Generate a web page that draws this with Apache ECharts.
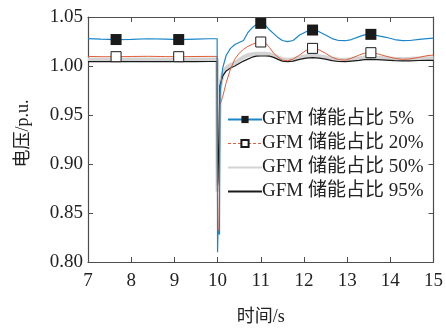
<!DOCTYPE html>
<html>
<head>
<meta charset="utf-8">
<script src="https://cdn.jsdelivr.net/npm/echarts@6/dist/echarts.min.js"></script>
<style>
html,body{margin:0;padding:0;background:#fff;}
#chart{width:446px;height:331px;}
</style>
</head>
<body>
<div id="chart"></div>
<script>
// Time stamps (s) shared by all curves
var times = [7, 7.3, 7.65, 8, 8.4, 8.8, 9.1, 9.5, 9.8, 9.99,
  10.0, 10.01, 10.03, 10.045, 10.055, 10.12,
  10.2, 10.3, 10.4, 10.5, 10.6, 10.7, 10.8, 10.9, 11.0,
  11.1, 11.2, 11.3, 11.4, 11.5, 11.62, 11.75, 11.9, 12.05, 12.2,
  12.35, 12.5, 12.65, 12.8, 12.96, 13.1, 13.28, 13.4, 13.55,
  13.7, 13.9, 14.1, 14.28, 14.45, 14.67, 14.85, 15];

// Times where the marker symbols sit
var markerTimes = [7.65, 9.1, 11.0, 12.2, 13.55];

// Voltage (p.u.) for each GFM storage share
var v5 = [1.028, 1.0275, 1.027, 1.0272, 1.0278, 1.0275, 1.027, 1.0275, 1.0278, 1.0278,
  0.810, 0.832, 0.830, 0.828, 0.972, 0.998,
  1.011, 1.018, 1.022, 1.024, 1.026, 1.034, 1.039, 1.0425, 1.0435,
  1.042, 1.037, 1.033, 1.029, 1.026, 1.0248, 1.026, 1.0316, 1.035, 1.0367,
  1.035, 1.0316, 1.028, 1.026, 1.0258, 1.027, 1.030, 1.0318, 1.0323,
  1.031, 1.0293, 1.027, 1.0258, 1.026, 1.0272, 1.028, 1.0285];

var v20 = [1.0098, 1.0095, 1.0095, 1.0097, 1.0099, 1.0096, 1.0095, 1.0097, 1.0098, 1.0098,
  0.845, 0.830, 0.834, 0.832, 0.960, 0.969,
  0.983, 0.997, 1.007, 1.013, 1.017, 1.020, 1.022, 1.0238, 1.0245,
  1.024, 1.019, 1.013, 1.009, 1.006, 1.0054, 1.007, 1.0112, 1.016, 1.018,
  1.0165, 1.013, 1.009, 1.0065, 1.006, 1.008, 1.0112, 1.013, 1.0136,
  1.0125, 1.010, 1.0078, 1.0068, 1.0072, 1.0089, 1.0105, 1.0112];

var v50 = [1.0066, 1.0065, 1.0065, 1.0066, 1.0066, 1.0065, 1.0065, 1.0066, 1.0066, 1.0066,
  0.872, 0.875, 0.877, 0.877, 0.978, 0.992,
  0.998, 1.001, 1.003, 1.006, 1.009, 1.011, 1.012, 1.0125, 1.0125,
  1.0124, 1.012, 1.0108, 1.0088, 1.007, 1.0064, 1.007, 1.0088, 1.010, 1.0105,
  1.010, 1.009, 1.0075, 1.0066, 1.0064, 1.007, 1.0078, 1.0086, 1.0088,
  1.0085, 1.008, 1.0075, 1.0072, 1.0073, 1.0076, 1.0078, 1.0078];

var v95 = [1.0045, 1.0045, 1.0044, 1.0045, 1.0046, 1.0045, 1.0044, 1.0045, 1.0046, 1.0046,
  0.878, 0.882, 0.884, 0.884, 0.980, 0.990,
  0.995, 0.998, 1.000, 1.0025, 1.005, 1.007, 1.009, 1.010, 1.0102,
  1.0102, 1.010, 1.0088, 1.0068, 1.005, 1.0044, 1.005, 1.0068, 1.008, 1.0085,
  1.008, 1.007, 1.0055, 1.0046, 1.0044, 1.005, 1.0058, 1.0066, 1.0068,
  1.0065, 1.006, 1.0055, 1.0052, 1.0053, 1.0056, 1.0058, 1.0058];

var names = ['GFM 储能占比 5%', 'GFM 储能占比 20%', 'GFM 储能占比 50%', 'GFM 储能占比 95%'];
var xTicks = [7, 8, 9, 10, 11, 12, 13, 14, 15];
var yTicks = [0.80, 0.85, 0.90, 0.95, 1.00, 1.05];

var FONT = "'Liberation Serif', 'Noto Sans CJK SC', serif";
var AXIS_COLOR = '#4d4d4d';
var TEXT_COLOR = '#222';
var RED = '#e0603a';

function build(values, withMarkers) {
  return times.map(function (t, i) {
    var item = { value: [t, values[i]] };
    item.symbol = (withMarkers && markerTimes.indexOf(t) >= 0) ? 'rect' : 'none';
    return item;
  });
}

var chart = echarts.init(document.getElementById('chart'), null, { renderer: 'canvas' });

var baseX = {
  type: 'value', min: xTicks[0], max: xTicks[xTicks.length - 1], interval: 1,
  axisLine: { show: true, onZero: false, lineStyle: { color: AXIS_COLOR, width: 1.2 } },
  axisTick: { show: true, inside: true, length: 5, lineStyle: { color: AXIS_COLOR } },
  splitLine: { show: false }
};
var baseY = {
  type: 'value', min: yTicks[0], max: yTicks[yTicks.length - 1], interval: 0.05,
  axisLine: { show: true, onZero: false, lineStyle: { color: AXIS_COLOR, width: 1.2 } },
  axisTick: { show: true, inside: true, length: 5, lineStyle: { color: AXIS_COLOR } },
  splitLine: { show: false }
};

chart.setOption({
  animation: false,
  backgroundColor: '#fff',
  grid: { left: 88, right: 12, top: 17, bottom: 69 },
  xAxis: [
    Object.assign({}, baseX, {
      position: 'bottom',
      name: '时间/s', nameLocation: 'middle', nameGap: 46,
      nameTextStyle: { fontFamily: FONT, fontSize: 18, color: TEXT_COLOR },
      axisLabel: { fontFamily: FONT, fontSize: 19, color: TEXT_COLOR, margin: 10 }
    }),
    Object.assign({}, baseX, { position: 'top', axisLabel: { show: false } })
  ],
  yAxis: [
    Object.assign({}, baseY, {
      position: 'left',
      name: '电压/p.u.', nameLocation: 'middle', nameGap: 56,
      nameTextStyle: { fontFamily: FONT, fontSize: 18, color: TEXT_COLOR, padding: [0, 0, 0, 12] },
      axisLabel: { fontFamily: FONT, fontSize: 19, color: TEXT_COLOR, margin: 5,
        formatter: function (v) { return v.toFixed(2); } }
    }),
    Object.assign({}, baseY, { position: 'right', axisLabel: { show: false } })
  ],
  legend: {
    orient: 'vertical', left: 227, top: 110, itemGap: 5, padding: 0,
    itemWidth: 34, itemHeight: 9,
    textStyle: { fontFamily: FONT, fontSize: 19, color: TEXT_COLOR, padding: [0, 0, 0, -5] },
    data: [
      { name: names[0] },
      { name: names[1], lineStyle: { type: [3, 2], width: 1, color: RED } },
      { name: names[2], itemStyle: { opacity: 0 } },
      { name: names[3], itemStyle: { opacity: 0 } }
    ]
  },
  series: [
    {
      name: names[2], type: 'line', data: build(v50, false), symbol: 'none',
      lineStyle: { color: '#d3d3d3', width: 4 }, itemStyle: { color: '#d3d3d3' }, z: 1
    },
    {
      name: names[3], type: 'line', data: build(v95, false), symbol: 'none',
      lineStyle: { color: '#1a1a1a', width: 1.2 }, itemStyle: { color: '#1a1a1a' }, z: 2
    },
    {
      name: names[1], type: 'line', data: build(v20, true), symbol: 'rect', symbolSize: 10,
      showAllSymbol: true,
      lineStyle: { color: RED, width: 1 },
      itemStyle: { color: '#ffffff', borderColor: '#1a1a1a', borderWidth: 1 }, z: 3
    },
    {
      name: names[0], type: 'line', data: build(v5, true), symbol: 'rect', symbolSize: 11,
      showAllSymbol: true,
      lineStyle: { color: '#1a86c8', width: 1.2 },
      itemStyle: { color: '#1a1a1a' }, z: 4
    }
  ]
});
</script>
</body>
</html>
